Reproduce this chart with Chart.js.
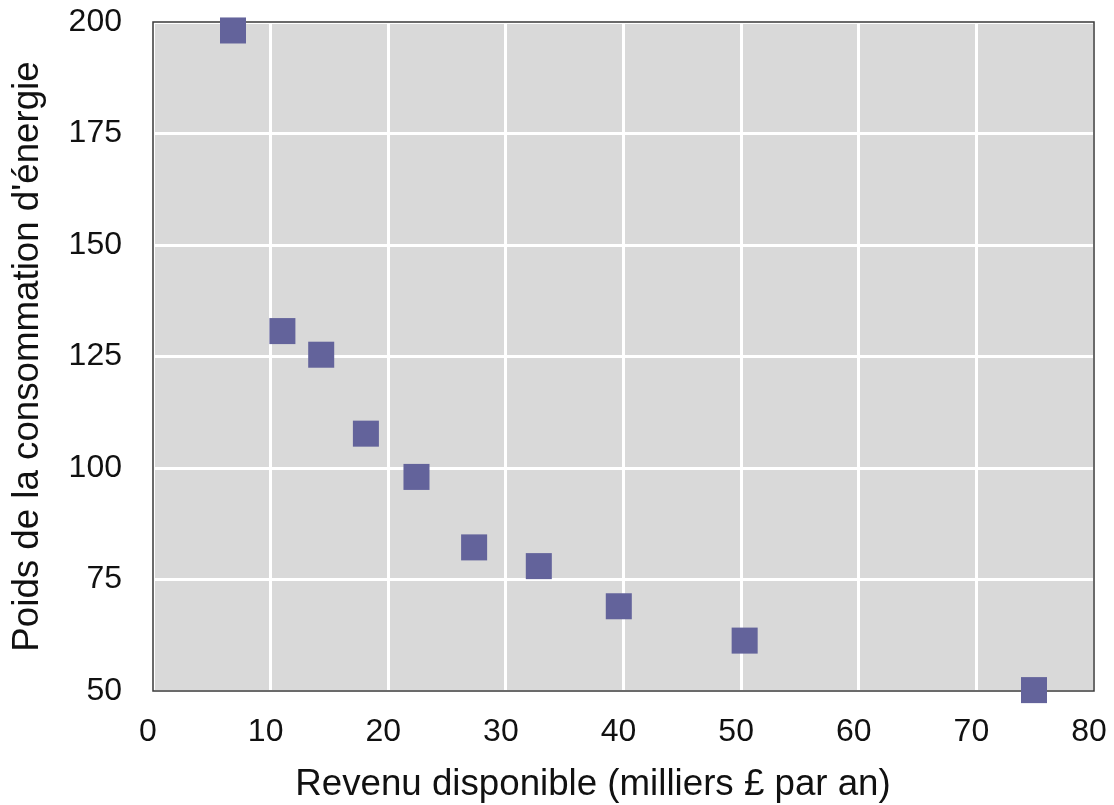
<!DOCTYPE html>
<html>
<head>
<meta charset="utf-8">
<script src="https://cdn.jsdelivr.net/npm/chart.js@4"></script>
<style>
  html, body { margin: 0; padding: 0; background: #fff; }
  #wrap { width: 1114px; height: 805px; }
</style>
</head>
<body>
<div id="wrap"><canvas id="energieChart" width="1114" height="805"></canvas></div>
<script>
// revenu disponible (milliers £ par an)
const revenu = [6.8, 11.0, 14.3, 18.1, 22.4, 27.3, 32.8, 39.6, 50.3, 74.9];
// poids de la consommation d'énergie
const poids = [198.1, 130.7, 125.4, 107.7, 98.0, 82.2, 78.0, 69.0, 61.3, 50.2];

const xTicks = [0, 10, 20, 30, 40, 50, 60, 70, 80];
const yTicks = [50, 75, 100, 125, 150, 175, 200];

const xTitle = 'Revenu disponible (milliers £ par an)';
const yTitle = "Poids de la consommation d'énergie";

const fontFamily = "'Liberation Sans', Arial, sans-serif";

// grey plot panel, dark frame and axis titles
const panel = {
    id: 'panel',
    beforeDraw(chart) {
        const { ctx, chartArea: a } = chart;
        ctx.save();
        ctx.fillStyle = '#d9d9d9';
        ctx.fillRect(a.left, a.top, a.right - a.left, a.bottom - a.top);
        ctx.restore();
    },
    beforeDatasetsDraw(chart) {
        const { ctx, chartArea: a } = chart;
        ctx.save();
        ctx.strokeStyle = '#3a3a3a';
        ctx.lineWidth = 1.5;
        ctx.strokeRect(a.left, a.top, a.right - a.left, a.bottom - a.top);
        ctx.restore();
    },
    afterDraw(chart) {
        const { ctx, chartArea: a } = chart;
        ctx.save();
        ctx.fillStyle = '#111';
        ctx.font = '36.7px ' + fontFamily;
        ctx.textAlign = 'center';
        ctx.textBaseline = 'alphabetic';
        ctx.fillText(xTitle, 593, 795);
        ctx.translate(38, (a.top + a.bottom) / 2);
        ctx.rotate(-Math.PI / 2);
        ctx.fillText(yTitle, 0, 0);
        ctx.restore();
    }
};

const scatterChart = new Chart(document.getElementById('energieChart'), {
    type: 'scatter',
    data: {
        datasets: [{
            data: revenu.map((x, i) => ({ x: x, y: poids[i] })),
            pointStyle: 'rect',
            pointRadius: 18.4,
            pointHoverRadius: 18.4,
            backgroundColor: '#63639b',
            borderColor: '#63639b',
            borderWidth: 0,
            clip: false
        }]
    },
    options: {
        responsive: false,
        animation: false,
        layout: { padding: { top: 22, right: 20, left: 0, bottom: 0 } },
        plugins: {
            legend: { display: false },
            tooltip: { enabled: false }
        },
        scales: {
            x: {
                type: 'linear',
                min: 0,
                max: 80,
                afterFit: s => {
                    s.height = 114;
                    s.paddingLeft = 0;
                    s.paddingRight = 0;
                },
                afterBuildTicks: s => { s.ticks = xTicks.map(v => ({ value: v })); },
                grid: { color: '#ffffff', lineWidth: 3, drawTicks: false },
                border: { display: false },
                ticks: {
                    padding: 22,
                    labelOffset: -5,
                    color: '#111',
                    font: { family: fontFamily, size: 32 }
                }
            },
            y: {
                type: 'linear',
                min: 50,
                max: 200,
                afterFit: s => {
                    s.width = 153;
                    s.paddingTop = 0;
                    s.paddingBottom = 0;
                },
                afterBuildTicks: s => { s.ticks = yTicks.map(v => ({ value: v })); },
                grid: { color: '#ffffff', lineWidth: 3, drawTicks: false },
                border: { display: false },
                ticks: {
                    padding: 31,
                    color: '#111',
                    font: { family: fontFamily, size: 32 }
                }
            }
        }
    },
    plugins: [panel]
});
</script>
</body>
</html>
